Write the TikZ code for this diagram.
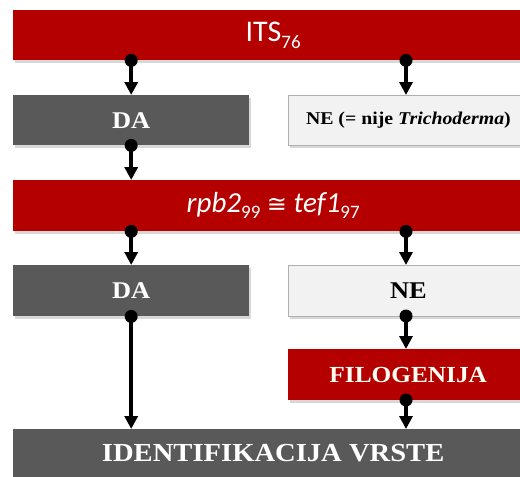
\documentclass[tikz,border=0pt]{standalone}
\usepackage{fontspec}
\setmainfont{Liberation Serif}[FakeStretch=1.1]
\newfontfamily\carlito{Carlito}
\newfontfamily\symfont{DejaVu Sans}
\usetikzlibrary{arrows.meta,shadows}
\definecolor{boxred}{HTML}{B50000}
\definecolor{boxdark}{HTML}{595959}
\definecolor{boxlight}{HTML}{F2F2F2}
\definecolor{boxline}{HTML}{B0B0B0}
\newcommand{\lowsub}[1]{\raisebox{-0.45ex}{\upshape\fontsize{19}{20}\selectfont #1}}
\tikzset{
  box/.style={anchor=north west, inner sep=0pt, align=center,
    drop shadow={shadow xshift=2pt, shadow yshift=-2.5pt, opacity=0.3}},
  redbox/.style={box, fill=boxred, text=white},
  darkbox/.style={box, fill=boxdark, text=white},
  lightbox/.style={box, fill=boxlight, draw=boxline, line width=0.8pt, text=black},
  conn/.style={line width=3.5pt, -{Triangle[length=13pt,width=13pt]}},
  dotnode/.style={circle, fill=black, inner sep=0pt, minimum size=13pt},
}
\begin{document}
\begin{tikzpicture}[x=1pt,y=-1pt]
\useasboundingbox[fill=white] (0,0) rectangle (520,477);
\clip (0,0) rectangle (520,477);
\node[redbox, minimum width=520pt, minimum height=50pt] (its) at (13,10)
  {\carlito\fontsize{30}{32}\selectfont ITS\lowsub{76}};
\node[darkbox, minimum width=236pt, minimum height=50pt] (da1) at (13,95)
  {\bfseries\fontsize{24}{26}\selectfont DA};
\node[lightbox, minimum width=240pt, minimum height=50pt] (ne1) at (288,95)
  {\bfseries\fontsize{18}{20}\selectfont NE (= nije \textit{Trichoderma})};
\node[redbox, minimum width=520pt, minimum height=51pt] (rpb) at (13,180)
  {\carlito\itshape\fontsize{29}{32}\selectfont rpb2\lowsub{99} {\symfont\fontsize{24}{30}\selectfont ≅} tef1\lowsub{97}};
\node[darkbox, minimum width=236pt, minimum height=51pt] (da2) at (13,265)
  {\bfseries\fontsize{24}{26}\selectfont DA};
\node[lightbox, minimum width=240pt, minimum height=51pt] (ne2) at (288,265)
  {\bfseries\fontsize{24}{26}\selectfont NE};
\node[redbox, minimum width=240pt, minimum height=51pt, text=white!95!yellow] (filo) at (288,349)
  {\bfseries\fontsize{23}{26}\selectfont FILOGENIJA};
\node[darkbox, minimum width=520pt, minimum height=48pt] (ident) at (13,429)
  {\bfseries\fontsize{26}{28}\selectfont IDENTIFIKACIJA VRSTE};
% connectors
\draw[conn] (its.south -| da1.north) node[dotnode]{} -- (da1.north);
\draw[conn] (its.south -| 406,0) node[dotnode]{} -- (406,95);
\draw[conn] (da1.south) node[dotnode]{} -- (rpb.north -| da1.south);
\draw[conn] (rpb.south -| da2.north) node[dotnode]{} -- (da2.north);
\draw[conn] (rpb.south -| 406,0) node[dotnode]{} -- (406,265);
\draw[conn] (da2.south) node[dotnode]{} -- (ident.north -| da2.south);
\draw[conn] (406,316) node[dotnode]{} -- (406,349);
\draw[conn] (406,400) node[dotnode]{} -- (406,429);
\end{tikzpicture}
\end{document}
